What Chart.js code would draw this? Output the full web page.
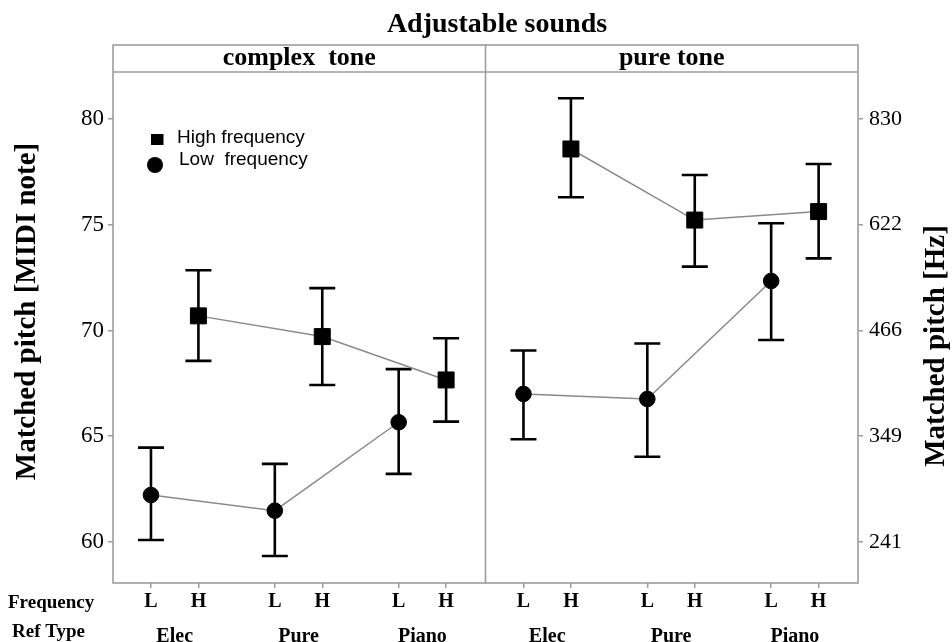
<!DOCTYPE html>
<html><head><meta charset="utf-8">
<script src="https://cdn.jsdelivr.net/npm/chart.js@4/dist/chart.umd.min.js"></script>
<style>html,body{margin:0;padding:0;background:#fff}#wrap{width:952px;height:642px;position:relative}</style>
</head><body><div id="wrap"><canvas id="c" width="952" height="642"></canvas></div>
<script>
// ---- data ----
const chartTitle = 'Adjustable sounds';
const panels = ['complex  tone', 'pure tone'];
const refTypes = ['Elec', 'Pure', 'Piano'];
const freqLabels = ['L', 'H'];
const yTicks = [60, 65, 70, 75, 80];
const hzLabels = ['241', '349', '466', '622', '830'];

// complex tone
const complexHigh   = [70.69, 69.71, 67.66];
const complexHighLo = [68.56, 67.42, 65.69];
const complexHighHi = [72.85, 72.00, 69.63];
const complexLow    = [62.22, 61.48, 65.66];
const complexLowLo  = [60.09, 59.34, 63.22];
const complexLowHi  = [64.46, 63.69, 68.17];
// pure tone
const pureHigh   = [78.58, 75.22, 75.62];
const pureHighLo = [76.30, 73.02, 73.41];
const pureHighHi = [80.98, 77.35, 77.87];
const pureLow    = [67.00, 66.76, 72.34];
const pureLowLo  = [64.86, 64.03, 69.55];
const pureLowHi  = [69.05, 69.38, 75.07];

// ---- layout ----
const PANEL_W = 7.85, GROUP_W = 2.61, X_MIN = -0.8, X_MAX = X_MIN + 2 * PANEL_W;
const Y_MIN = 58.06, Y_MAX = 82.22;
const xPos = (p, g, f) => p * PANEL_W + g * GROUP_W + f;
const SERIF = '"Liberation Serif", "DejaVu Serif", serif';
const SANS = '"Liberation Sans", Arial, sans-serif';
const FRAME = '#9d9d9d';

function series(p, f, vals, lo, hi) {
  return refTypes.map((r, g) => ({ x: xPos(p, g, f), y: vals[g], lo: lo[g], hi: hi[g] }));
}
function ds(label, data, high) {
  return {
    label, data,
    borderColor: '#8a8a8a', borderWidth: 1.5,
    pointStyle: high ? 'rect' : 'circle',
    pointRadius: high ? 11.3 : 7.8,
    pointBackgroundColor: '#000', pointBorderColor: '#000', pointBorderWidth: 1,
    fill: false, tension: 0
  };
}
const datasets = [
  ds('complex High', series(0, 1, complexHigh, complexHighLo, complexHighHi), true),
  ds('complex Low', series(0, 0, complexLow, complexLowLo, complexLowHi), false),
  ds('pure High', series(1, 1, pureHigh, pureHighLo, pureHighHi), true),
  ds('pure Low', series(1, 0, pureLow, pureLowLo, pureLowHi), false)
];

const freqTickVals = [];
[0, 1].forEach(p => refTypes.forEach((r, g) => freqLabels.forEach((l, f) => freqTickVals.push(xPos(p, g, f)))));
const refTickVals = [];
[0, 1].forEach(p => refTypes.forEach((r, g) => refTickVals.push(xPos(p, g, 0.5))));

const errorBars = {
  id: 'errorBars',
  beforeDatasetsDraw(chart) {
    const ctx = chart.ctx, xs = chart.scales.x, ys = chart.scales.y;
    ctx.save();
    ctx.strokeStyle = '#000'; ctx.lineWidth = 2.6;
    chart.data.datasets.forEach(d => d.data.forEach(pt => {
      const x = xs.getPixelForValue(pt.x);
      const yl = ys.getPixelForValue(pt.lo), yh = ys.getPixelForValue(pt.hi);
      ctx.beginPath();
      ctx.moveTo(x, yl); ctx.lineTo(x, yh);
      ctx.moveTo(x - 13, yl); ctx.lineTo(x + 13, yl);
      ctx.moveTo(x - 13, yh); ctx.lineTo(x + 13, yh);
      ctx.stroke();
    }));
    ctx.restore();
  }
};

const decor = {
  id: 'decor',
  afterDraw(chart) {
    const ctx = chart.ctx, a = chart.chartArea, xs = chart.scales.x;
    const top = 45;
    const div = xs.getPixelForValue(X_MIN + PANEL_W);
    ctx.save();
    ctx.strokeStyle = FRAME; ctx.lineWidth = 1.6;
    ctx.strokeRect(a.left, top, a.right - a.left, a.bottom - top);
    ctx.beginPath();
    ctx.moveTo(a.left, a.top); ctx.lineTo(a.right, a.top);
    ctx.moveTo(div, top); ctx.lineTo(div, a.bottom);
    ctx.stroke();
    ctx.fillStyle = '#000';
    ctx.textAlign = 'center'; ctx.textBaseline = 'alphabetic';
    ctx.font = 'bold 26px ' + SERIF;
    ctx.fillText(panels[0], (a.left + div) / 2, 64.5);
    ctx.fillText(panels[1], (div + a.right) / 2, 64.5);
    ctx.font = 'bold 28px ' + SERIF;
    ctx.fillText(chartTitle, 497, 32);
    // axis titles
    ctx.font = 'bold 29px ' + SERIF;
    ctx.save(); ctx.translate(35, 311.5); ctx.rotate(-Math.PI / 2); ctx.fillText('Matched pitch [MIDI note]', 0, 0); ctx.restore();
    ctx.save(); ctx.translate(944, 346); ctx.rotate(-Math.PI / 2); ctx.fillText('Matched pitch [Hz]', 0, 0); ctx.restore();
    // row labels
    ctx.textAlign = 'left';
    ctx.font = 'bold 19px ' + SERIF;
    ctx.fillText('Frequency', 8, 608);
    ctx.fillText('Ref Type', 12, 637);
    // legend
    ctx.fillRect(151, 134, 12.5, 11);
    ctx.beginPath(); ctx.arc(155, 165, 8, 0, Math.PI * 2); ctx.fill();
    ctx.textBaseline = 'middle';
    ctx.font = '19px ' + SANS;
    ctx.fillText('High frequency', 177, 138);
    ctx.fillText('Low  frequency', 179, 160);
    ctx.restore();
  }
};

new Chart(document.getElementById('c'), {
  type: 'line',
  data: { datasets },
  options: {
    responsive: false, animation: false, events: [],
    layout: { padding: { top: 72, left: 0, right: 0, bottom: 0 } },
    plugins: { legend: { display: false }, tooltip: { enabled: false } },
    scales: {
      x: {
        type: 'linear', position: 'bottom', min: X_MIN, max: X_MAX,
        afterBuildTicks: s => { s.ticks = freqTickVals.map(v => ({ value: v })); },
        afterFit: s => { s.height = 32; },
        ticks: { callback: (v, i) => freqLabels[i % 2], font: { family: SERIF, size: 20, weight: 'bold' }, color: '#000', padding: 2, maxRotation: 0, autoSkip: false },
        grid: { drawOnChartArea: false, drawTicks: true, tickLength: 5, color: FRAME, lineWidth: 1.5 },
        border: { display: false }
      },
      x2: {
        type: 'linear', position: 'bottom', min: X_MIN, max: X_MAX,
        afterBuildTicks: s => { s.ticks = refTickVals.map(v => ({ value: v })); },
        afterFit: s => { s.height = 27; },
        ticks: { callback: (v, i) => refTypes[i % 3], font: { family: SERIF, size: 20, weight: 'bold' }, color: '#000', padding: 2, maxRotation: 0, autoSkip: false },
        grid: { display: false },
        border: { display: false }
      },
      y: {
        position: 'left', min: Y_MIN, max: Y_MAX,
        afterBuildTicks: s => { s.ticks = yTicks.map(v => ({ value: v })); },
        afterFit: s => { s.width = 113; },
        ticks: { font: { family: SERIF, size: 23 }, color: '#000', padding: 4 },
        grid: { drawOnChartArea: false, drawTicks: true, tickLength: 5, color: FRAME, lineWidth: 1.5 },
        border: { display: false }
      },
      y2: {
        position: 'right', min: Y_MIN, max: Y_MAX,
        afterBuildTicks: s => { s.ticks = yTicks.map(v => ({ value: v })); },
        afterFit: s => { s.width = 94; },
        ticks: { callback: (v, i) => hzLabels[i], font: { family: SERIF, size: 22 }, color: '#000', padding: 6 },
        grid: { drawOnChartArea: false, drawTicks: true, tickLength: 5, color: FRAME, lineWidth: 1.5 },
        border: { display: false }
      }
    }
  },
  plugins: [errorBars, decor]
});
</script></body></html>
